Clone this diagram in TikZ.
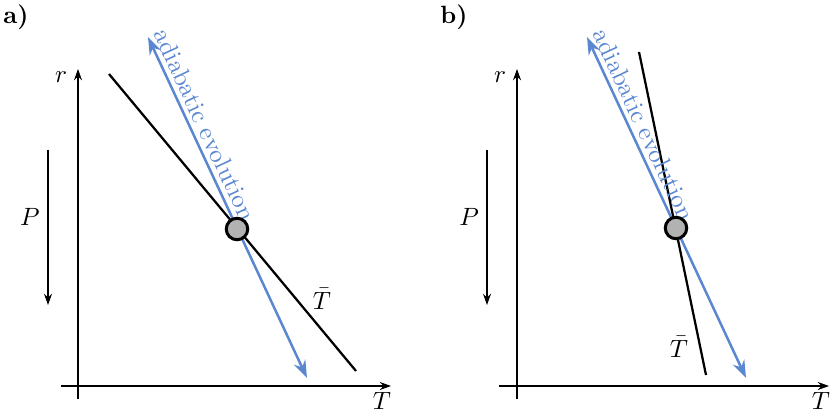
\documentclass[tikz,border=0pt]{standalone}
\usetikzlibrary{arrows.meta}
\definecolor{evoblue}{RGB}{91,135,209}
\begin{document}
\begin{tikzpicture}[x=0.4pt,y=-0.4pt,
  axis/.style={line width=0.5pt,-{Stealth[length=4.5pt,width=3.2pt]}},
  plain/.style={line width=0.5pt},
  tbar/.style={line width=0.9pt},
  evo/.style={evoblue,line width=1pt,{Stealth[length=7pt,width=5pt]}-{Stealth[length=7pt,width=5pt]}},
  parcel/.style={circle,draw,fill=gray!60,line width=1.2pt,minimum size=8.6pt,inner sep=0pt},
  lab/.style={inner sep=0pt}]
\useasboundingbox (0,0) rectangle (830,412);
% ---------- panel a ----------
\node[lab,font=\bfseries] (la) at (16,17) {a)};
\coordinate (ay0) at (78,399);
\coordinate (ay1) at (78,69);
\coordinate (ax0) at (61,386);
\coordinate (ax1) at (391,386);
\draw[plain] (ay0) -- (78,386);
\draw[axis] (78,386) -- (ay1);
\draw[axis] (ax0) -- (ax1);
\node[lab] (ra) at (61,77) {$r$};
\node[lab] (Ta) at (382,401) {$T$};
\coordinate (pa0) at (48,150);
\coordinate (pa1) at (48,305);
\draw[axis] (pa0) -- (pa1);
\node[lab] (Pa) at (30,217) {$P$};
\coordinate (ba0) at (109,74);
\coordinate (ba1) at (356,371);
\draw[tbar] (ba0) -- (ba1);
\node[lab] (tba) at (322,299) {$\bar T$};
\coordinate (ea0) at (148,37);
\coordinate (ea1) at (307,378);
\draw[evo] (ea0) -- node[pos=0.275,sloped,above=1.8pt,inner sep=0pt] {adiabatic evolution} (ea1);
\node[parcel] (ca) at (237,229) {};
% ---------- panel b ----------
\node[lab,font=\bfseries] (lb) at (454,17) {b)};
\coordinate (by0) at (517,399);
\coordinate (by1) at (517,69);
\coordinate (bx0) at (499,386);
\coordinate (bx1) at (829,386);
\draw[plain] (by0) -- (517,386);
\draw[axis] (517,386) -- (by1);
\draw[axis] (bx0) -- (bx1);
\node[lab] (rb) at (500,77) {$r$};
\node[lab] (Tb) at (821,401) {$T$};
\coordinate (pb0) at (487,150);
\coordinate (pb1) at (487,305);
\draw[axis] (pb0) -- (pb1);
\node[lab] (Pb) at (469,217) {$P$};
\coordinate (bb0) at (639,52);
\coordinate (bb1) at (706,375);
\draw[tbar] (bb0) -- (bb1);
\node[lab] (tbb) at (679,347) {$\bar T$};
\coordinate (eb0) at (587,37);
\coordinate (eb1) at (746,378);
\draw[evo] (eb0) -- node[pos=0.275,sloped,above=1.8pt,inner sep=0pt] {adiabatic evolution} (eb1);
\node[parcel] (cb) at (676,228) {};
\end{tikzpicture}
\end{document}
